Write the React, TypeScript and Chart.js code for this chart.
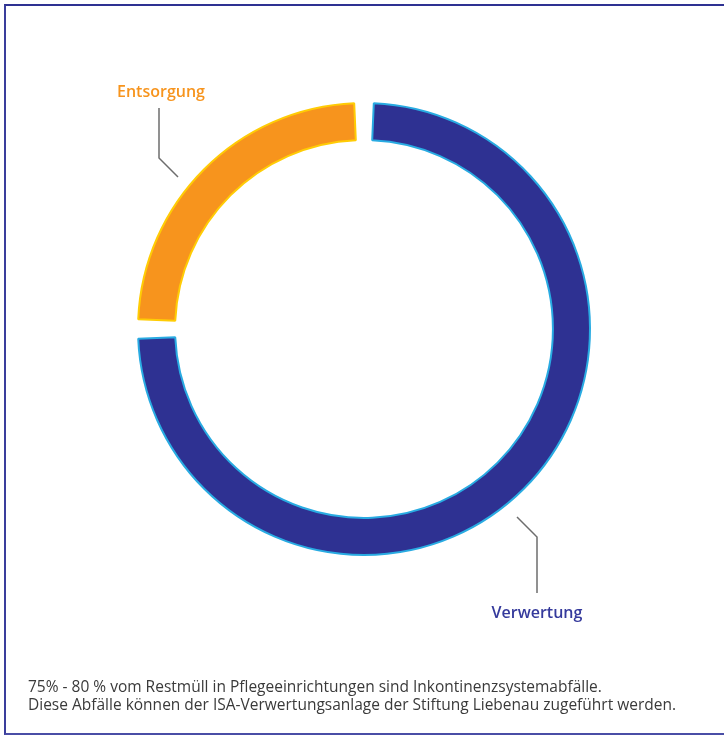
import React, { useEffect, useRef } from "react";
import { Chart, registerables } from "chart.js";

Chart.register(...registerables);

// ---- data ----
const categories: string[] = ["Verwertung", "Entsorgung"];
const shares: number[] = [75, 25];
const footerLines: string[] = [
  "75% - 80 % vom Restmüll in Pflegeeinrichtungen sind Inkontinenzsystemabfälle.",
  "Diese Abfälle können der ISA-Verwertungsanlage der Stiftung Liebenau zugeführt werden.",
];

// ---- styles ----
const fillColors = ["#2E3192", "#F7941D"];
const borderColors = ["#29ABE2", "#FFCC05"];
const labelColors = ["#353A9C", "#F7941D"];
const FONT = '"Open Sans", "DejaVu Sans", sans-serif';
const GAP_PX = 18;

// leader layout, offsets relative to the doughnut centre: start, elbow, end, label anchor
const leaderLayout = [
  { start: [153, 188], elbow: [173, 208], end: [173, 264], label: [173, 289] },
  { start: [-186, -152], elbow: [-205, -171], end: [-205, -221], label: [-203, -232] },
];

// trims every arc by the same pixel gap on both ends (equal gaps between slices)
const gapPlugin = {
  id: "equalGaps",
  afterUpdate(chart: any) {
    const meta = chart.getDatasetMeta(0);
    meta.data.forEach((arc: any) => {
      const rMid = (arc.innerRadius + arc.outerRadius) / 2;
      const d = GAP_PX / 2 / rMid;
      arc.startAngle = arc.startAngle + d;
      arc.endAngle = arc.endAngle - d;
      arc.circumference = arc.endAngle - arc.startAngle;
    });
  },
};

const leaderPlugin = {
  id: "leaders",
  afterDatasetsDraw(chart: any) {
    const meta = chart.getDatasetMeta(0);
    const ctx: CanvasRenderingContext2D = chart.ctx;
    meta.data.forEach((arc: any, i: number) => {
      const L = leaderLayout[i];
      if (!L) return;
      const cx = arc.x;
      const cy = arc.y;
      ctx.save();
      ctx.strokeStyle = "#6d6d6d";
      ctx.lineWidth = 1.5;
      ctx.beginPath();
      ctx.moveTo(cx + L.start[0], cy + L.start[1]);
      ctx.lineTo(cx + L.elbow[0], cy + L.elbow[1]);
      ctx.lineTo(cx + L.end[0], cy + L.end[1]);
      ctx.stroke();
      ctx.fillStyle = labelColors[i];
      ctx.font = `600 16px ${FONT}`;
      ctx.textAlign = "center";
      ctx.textBaseline = "alphabetic";
      ctx.fillText(categories[i], cx + L.label[0], cy + L.label[1]);
      ctx.restore();
    });
  },
};

export default function App() {
  const canvasRef = useRef<HTMLCanvasElement | null>(null);

  useEffect(() => {
    if (!canvasRef.current) return;
    const chart = new Chart(canvasRef.current, {
      type: "doughnut",
      data: {
        labels: categories,
        datasets: [
          {
            data: shares,
            backgroundColor: fillColors,
            borderColor: borderColors,
            borderWidth: 2,
          } as any,
        ],
      },
      options: {
        animation: false,
        responsive: true,
        maintainAspectRatio: false,
        radius: 226,
        cutout: "83.6%",
        layout: { padding: { left: 4, bottom: 78 } },
        plugins: {
          legend: { display: false },
          tooltip: { enabled: false },
        },
      } as any,
      plugins: [gapPlugin, leaderPlugin],
    });
    return () => chart.destroy();
  }, []);

  return (
    <div
      style={{
        position: "absolute",
        left: 0,
        top: 0,
        width: 724,
        height: 736,
        overflow: "hidden",
        background: "#ffffff",
      }}
    >
      <div
        style={{
          position: "absolute",
          left: 4,
          top: 4,
          width: 720,
          height: 731,
          boxSizing: "border-box",
          borderTop: "2px solid #2E3192",
          borderLeft: "2px solid #3a3e9c",
          borderBottom: "2px solid #4a4ea6",
        }}
      />
      <div style={{ position: "absolute", left: 0, top: 0, width: 724, height: 736 }}>
        <canvas ref={canvasRef} />
      </div>
      <div
        style={{
          position: "absolute",
          left: 28,
          top: 677,
          fontFamily: FONT,
          fontSize: 15.5,
          lineHeight: "18px",
          color: "#3a3a3a",
          whiteSpace: "nowrap",
        }}
      >
        {footerLines.map((t, i) => (
          <div key={i}>{t}</div>
        ))}
      </div>
    </div>
  );
}
